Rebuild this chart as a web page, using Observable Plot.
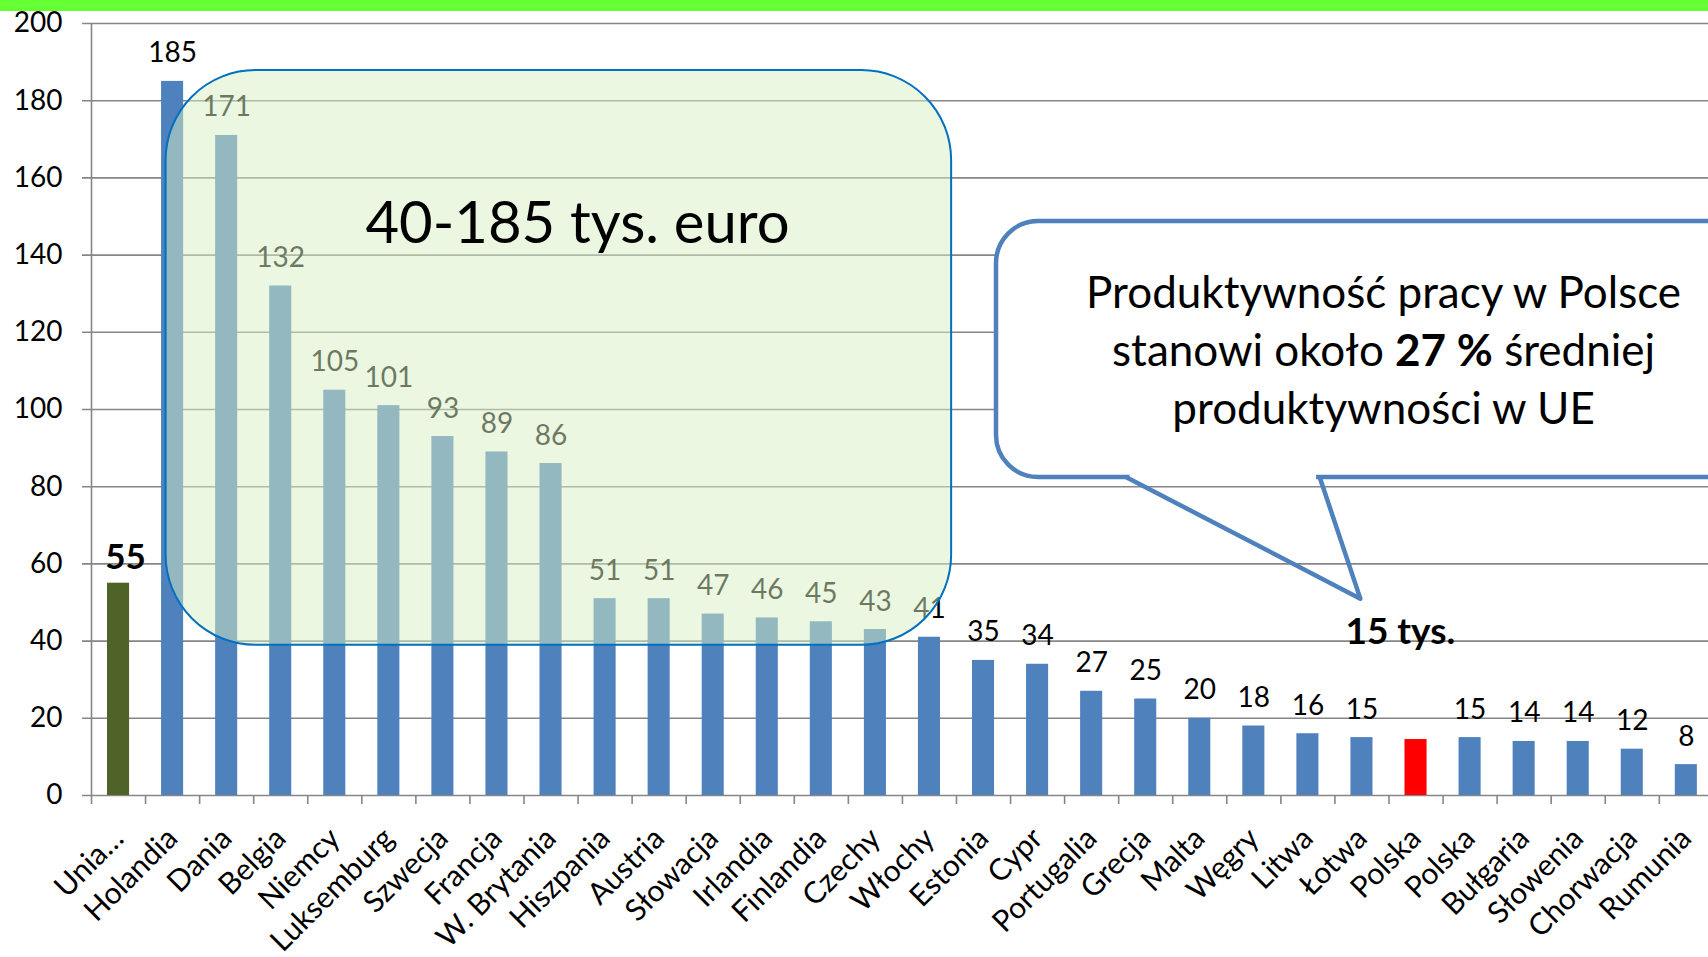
<!DOCTYPE html>
<html>
<head>
<meta charset="utf-8">
<script src="https://cdn.jsdelivr.net/npm/d3@7"></script>
<script src="https://cdn.jsdelivr.net/npm/@observablehq/plot@0.6"></script>
<style>
  html, body { margin: 0; padding: 0; background: #fff; overflow: hidden; }
  #band { position: absolute; left: 0; top: 0; width: 100%; height: 11px; background: #66FF33; z-index: 2; }
  #chart svg { display: block; }
</style>
</head>
<body>
<div id="band"></div>
<div id="chart"></div>
<script>
// ---- data ----
const countries = ["Unia…", "Holandia", "Dania", "Belgia", "Niemcy", "Luksemburg", "Szwecja", "Francja",
  "W. Brytania", "Hiszpania", "Austria", "Słowacja", "Irlandia", "Finlandia", "Czechy", "Włochy",
  "Estonia", "Cypr", "Portugalia", "Grecja", "Malta", "Węgry", "Litwa", "Łotwa", "Polska", "Polska",
  "Bułgaria", "Słowenia", "Chorwacja", "Rumunia"];
const values = [55, 185, 171, 132, 105, 101, 93, 89, 86, 51, 51, 47, 46, 45, 43, 41,
  35, 34, 27, 25, 20, 18, 16, 15, 14.5, 15, 14, 14, 12, 8];
const groups = ["UE", "kraj", "kraj", "kraj", "kraj", "kraj", "kraj", "kraj", "kraj", "kraj", "kraj",
  "kraj", "kraj", "kraj", "kraj", "kraj", "kraj", "kraj", "kraj", "kraj", "kraj", "kraj", "kraj",
  "kraj", "Polska", "kraj", "kraj", "kraj", "kraj", "kraj"];
const groupDomain = ["UE", "kraj", "Polska"];
const yTicks = [0, 20, 40, 60, 80, 100, 120, 140, 160, 180, 200];
const rangeLabel = ["40-185 tys. euro"];
const polandLabel = ["15 tys."];
const bubbleLines = ["Produktywność pracy w Polsce", "stanowi około 27 % średniej", "produktywności w UE"];
const boldPart = "27 %";

// annotation anchors (data units: x = category index, y = value)
const rangeBox = [{x1: 1.38, x2: 15.91, y1: 38.9, y2: 187.8}];
const rangeText = [{x: 8.99, y: 148}];
const bubbleBox = [{x1: 16.74, x2: 31, y1: 82.4, y2: 148.7}];
const tailGap = [{x1: 19.21, x2: 22.66, y1: 81.6, y2: 83.2}];
const tailPoints = [[19.15, 82.4], [23.47, 51.0], [22.72, 82.4]];
const bubbleText = [{x: 23.9, y: 130}, {x: 23.9, y: 115}, {x: 23.9, y: 100}];
const polandText = [{x: 24.21, y: 42.2}];

const data = countries.map((name, i) => ({i, name, value: values[i], group: groups[i]}));

const GRID = "#868686";
const FONT = "Lato, 'Open Sans', sans-serif";

const chart = Plot.plot({
  width: 1708,
  height: 957,
  marginTop: 23,
  marginBottom: 162,
  marginLeft: 91,
  marginRight: 0,
  style: {fontFamily: FONT, fontSize: "28px", background: "transparent", color: "#000"},
  x: {domain: [0, 29.91]},
  y: {domain: [0, 200]},
  color: {domain: groupDomain, range: ["#4F6228", "#4F81BD", "#FF0000"]},
  marks: [
    Plot.ruleY(yTicks, {stroke: GRID, strokeWidth: 1.6, insetLeft: -9}),
    Plot.ruleX([0], {stroke: GRID, strokeWidth: 1.6}),
    Plot.axisY({ticks: yTicks, tickSize: 0, tickPadding: 29, fontSize: 28, label: null, fill: "#000"}),
    Plot.axisX({ticks: d3.range(0, 30), tickSize: 9, tickFormat: () => "", stroke: GRID, strokeWidth: 1.6, label: null}),
    Plot.rectY(data, {x1: "i", x2: d => d.i + 1, y: "value", fill: "group", insetLeft: 16, insetRight: 16}),
    Plot.text(data.filter(d => d.group === "kraj"), {
      x: d => d.i + 0.5, y: "value", text: d => String(d.value), lineAnchor: "bottom", dy: -19,
      fontSize: 28, fill: "#000"
    }),
    Plot.text(data.filter(d => d.group === "UE"), {
      x: d => d.i + 0.5, y: "value", text: d => String(d.value), lineAnchor: "bottom", dy: -14, dx: 7,
      fontSize: 35, fontWeight: "bold", fill: "#000"
    }),
    // green range box (semi-transparent, above bars and labels)
    Plot.rect(rangeBox, {x1: "x1", x2: "x2", y1: "y1", y2: "y2", fill: "#D8EFC2", fillOpacity: 0.5,
      stroke: "#0070C0", strokeWidth: 2, rx: 90}),
    Plot.text(rangeText, {x: "x", y: "y", text: () => rangeLabel[0], fontSize: 58, fill: "#000"}),
    // speech bubble
    Plot.rect(bubbleBox, {x1: "x1", x2: "x2", y1: "y1", y2: "y2", fill: "white", stroke: "#4F81BD",
      strokeWidth: 4.5, rx: 42, clip: true}),
    Plot.rect(tailGap, {x1: "x1", x2: "x2", y1: "y1", y2: "y2", fill: "white"}),
    Plot.line(tailPoints, {stroke: "#4F81BD", strokeWidth: 4.5, strokeLinejoin: "round", strokeLinecap: "round"}),
    Plot.text(bubbleText, {x: "x", y: "y", text: (d, i) => bubbleLines[i], fontSize: 44, fill: "#000"}),
    Plot.text(polandText, {x: "x", y: "y", text: () => polandLabel[0], fontSize: 37, fontWeight: "bold", fill: "#000"}),
    // category labels
    Plot.text(data, {x: d => d.i + 0.5, y: 0, text: "name", rotate: -45, textAnchor: "end",
      dx: 0, dy: 38, fontSize: 30, fill: "#000"})
  ]
});

// bold "27 %" inside the bubble's second line
chart.querySelectorAll("text").forEach(t => {
  if (t.textContent === bubbleLines[1]) {
    const [before, after] = bubbleLines[1].split(boldPart);
    t.textContent = "";
    const ns = "http://www.w3.org/2000/svg";
    [[before, "normal"], [boldPart, "bold"], [after, "normal"]].forEach(([s, w]) => {
      const ts = document.createElementNS(ns, "tspan");
      ts.setAttribute("font-weight", w);
      ts.textContent = s;
      t.appendChild(ts);
    });
  }
});

document.getElementById("chart").appendChild(chart);
</script>
</body>
</html>
